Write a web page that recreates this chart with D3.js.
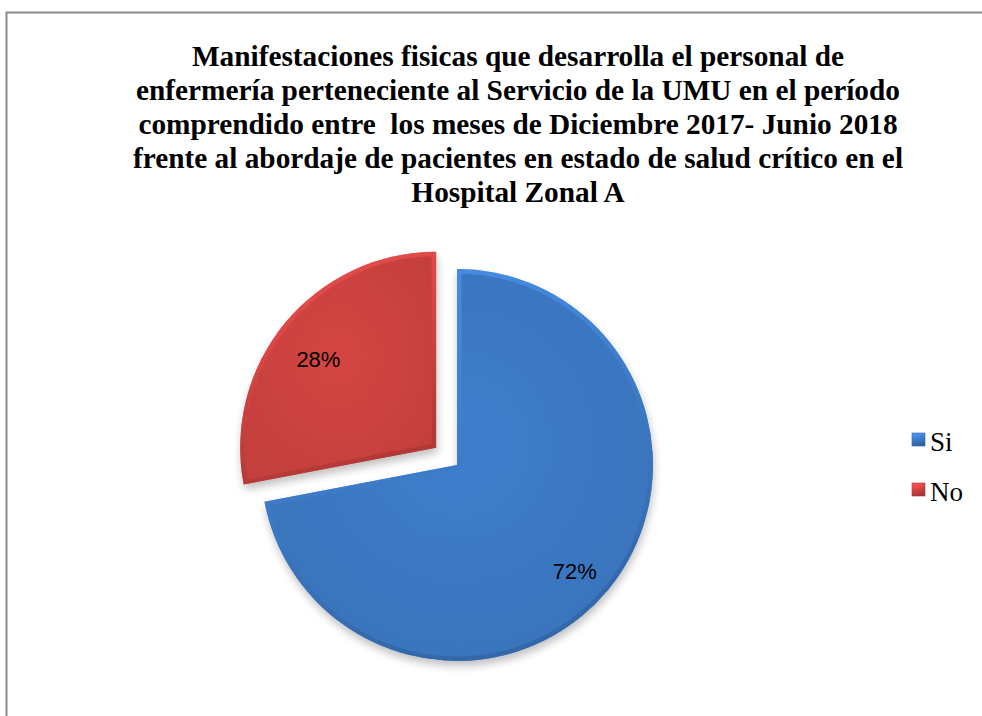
<!DOCTYPE html>
<html>
<head>
<meta charset="UTF-8">
<title>Manifestaciones fisicas</title>
<script src="https://d3js.org/d3.v7.min.js"></script>
<style>
  body{margin:0;background:#fff;}
</style>
</head>
<body>
<svg id="chart"></svg>
<script>
// data
const categories = ['Si', 'No'];
const values = [72, 28];
const colors = ['#3c7ac6', '#cf4340'];
const titleLines = [
  'Manifestaciones fisicas que desarrolla el personal de',
  'enfermería perteneciente al Servicio de la UMU en el período',
  'comprendido entre\u00a0 los meses de Diciembre 2017- Junio 2018',
  'frente al abordaje de pacientes en estado de salud crítico en el',
  'Hospital Zonal A'
];
const exploded = [0, 27];

let width = 982, height = 716;
let svg = d3.select('#chart').attr('width', width).attr('height', height);

// frame
svg.append('path')
   .attr('d', 'M6.5,' + (height + 5) + 'V12.5H' + (width + 5))
   .attr('fill', 'none')
   .attr('stroke', '#8c8c8c')
   .attr('stroke-width', 2);

// title
svg.append('g').selectAll('text')
   .data(titleLines).enter()
   .append('text')
   .attr('x', 518)
   .attr('y', (d, i) => 66 + i * 34)
   .attr('text-anchor', 'middle')
   .style('font-family', '"Liberation Serif"')
   .style('font-weight', 'bold')
   .style('font-size', '29.3px')
   .text(d => d);

let defs = svg.append('defs');

let shadow = defs.append('filter').attr('id', 'shadow')
   .attr('x', '-20%').attr('y', '-20%').attr('width', '140%').attr('height', '140%');
shadow.append('feGaussianBlur').attr('in', 'SourceAlpha').attr('stdDeviation', 4);
shadow.append('feOffset').attr('dx', 1).attr('dy', 5).attr('result', 'b');
shadow.append('feComponentTransfer').append('feFuncA').attr('type', 'linear').attr('slope', 0.25);
let merge = shadow.append('feMerge');
merge.append('feMergeNode');
merge.append('feMergeNode').attr('in', 'SourceGraphic');

colors.forEach((c, i) => {
  let g = defs.append('radialGradient').attr('id', 'fill' + i)
     .attr('cx', '50%').attr('cy', '45%').attr('r', '60%');
  g.append('stop').attr('offset', '0%').attr('stop-color', d3.color(c).brighter(0.08));
  g.append('stop').attr('offset', '100%').attr('stop-color', d3.color(c).darker(0.15));
  let b = defs.append('linearGradient').attr('id', 'bevel' + i)
     .attr('x1', 0).attr('y1', 0).attr('x2', 0.3).attr('y2', 1);
  b.append('stop').attr('offset', '0%').attr('stop-color', d3.color(c).brighter(0.7));
  b.append('stop').attr('offset', '45%').attr('stop-color', d3.color(c).brighter(0.2));
  b.append('stop').attr('offset', '100%').attr('stop-color', d3.color(c).darker(0.6));
});

let cx = 457, cy = 465, radius = 196;
let pie = d3.pie().sort(null).value(d => d);
let arc = d3.arc().innerRadius(0).outerRadius(radius);
let arcs = pie(values);

let chart = svg.append('g').attr('transform', 'translate(' + cx + ',' + cy + ')');

let slices = chart.selectAll('.slice')
   .data(arcs).enter()
   .append('g')
   .attr('class', 'slice')
   .attr('transform', (d, i) => {
     let a = (d.startAngle + d.endAngle) / 2;
     return 'translate(' + (Math.sin(a) * exploded[i]) + ',' + (-Math.cos(a) * exploded[i]) + ')';
   });

slices.append('clipPath').attr('id', (d, i) => 'clip' + i)
   .append('path').attr('d', arc);

slices.append('path')
   .attr('d', arc)
   .attr('fill', (d, i) => 'url(#fill' + i + ')')
   .attr('filter', 'url(#shadow)');

slices.append('path')
   .attr('d', arc)
   .attr('fill', 'none')
   .attr('stroke', (d, i) => 'url(#bevel' + i + ')')
   .attr('stroke-width', 9)
   .attr('stroke-linejoin', 'round')
   .attr('opacity', 0.7)
   .attr('clip-path', (d, i) => 'url(#clip' + i + ')');

let labelArc = d3.arc().innerRadius(radius * 0.78).outerRadius(radius * 0.78);
slices.append('text')
   .attr('transform', d => {
     let p = labelArc.centroid(d);
     return 'translate(' + p[0] + ',' + (p[1] + 9) + ')';
   })
   .attr('dy', '0.35em')
   .attr('text-anchor', 'middle')
   .style('font-family', '"Liberation Sans"')
   .style('font-size', '22px')
   .text(d => d3.format('.0%')(d.value / 100));

// legend
let legend = svg.append('g').attr('transform', 'translate(912,433)');
let item = legend.selectAll('g')
   .data(categories).enter()
   .append('g')
   .attr('transform', (d, i) => 'translate(0,' + i * 50 + ')');
item.append('rect')
   .attr('width', 13).attr('height', 13)
   .attr('fill', (d, i) => 'url(#bevel' + i + ')')
   .attr('stroke', (d, i) => d3.color(colors[i]).darker(0.5))
   .attr('stroke-width', 0.6);
item.append('text')
   .attr('x', 18)
   .attr('y', 18)
   .style('font-family', '"Liberation Serif"')
   .style('font-size', '27px')
   .text(d => d);
</script>
</body>
</html>
